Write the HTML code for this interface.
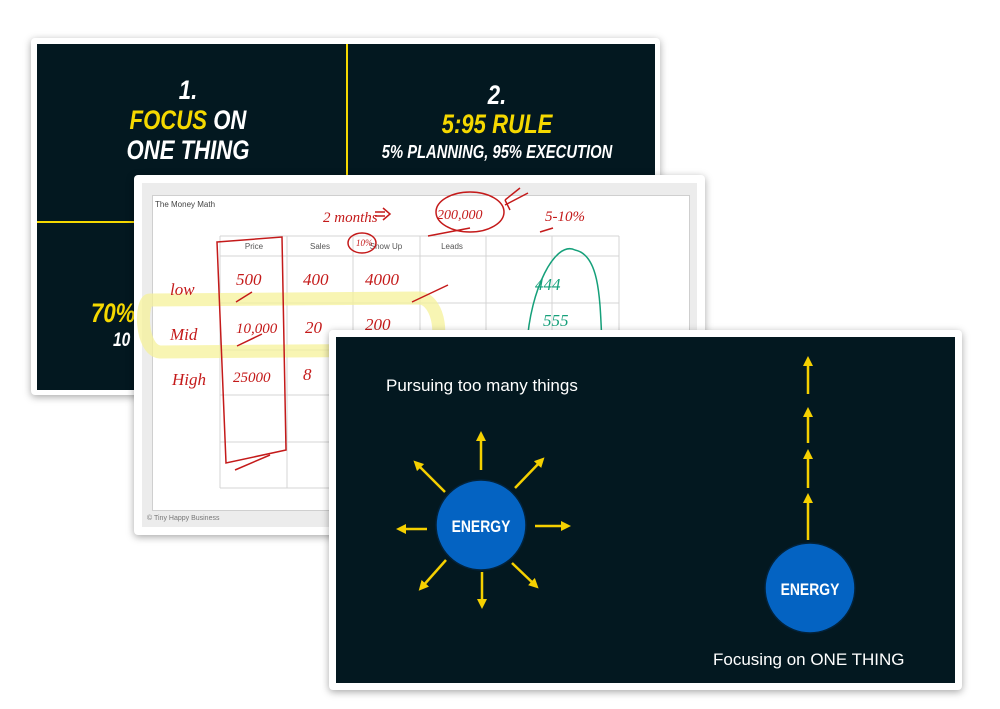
<!DOCTYPE html>
<html><head><meta charset="utf-8"><style>
html,body{margin:0;padding:0;background:#fff;}
body{width:1000px;height:709px;position:relative;overflow:hidden;font-family:"Liberation Sans",sans-serif;}
.card{position:absolute;background:#fff;border-radius:4px;box-shadow:0 2px 8px rgba(0,0,0,0.35);}
.h{position:absolute;font-family:"Liberation Sans",sans-serif;font-weight:bold;font-style:italic;white-space:nowrap;transform:scaleX(0.82);transform-origin:center;text-align:center;}
</style></head><body>
<!-- Slide 1 -->
<div class="card" style="left:31px;top:38px;width:629px;height:357px;">
  <div style="position:absolute;left:6px;top:6px;width:618px;height:346px;background:#031820;">
    <div style="position:absolute;left:309px;top:0;width:2px;height:180px;background:#f5d800;"></div>
    <div style="position:absolute;left:0;top:177px;width:120px;height:2px;background:#f5d800;"></div>
    <div class="h" style="left:51px;top:31px;width:200px;font-size:27px;color:#fff;">1.</div>
    <div class="h" style="left:51px;top:61px;width:200px;font-size:27px;"><span style="color:#f5d800">FOCUS</span> <span style="color:#fff">ON</span></div>
    <div class="h" style="left:31px;top:91px;width:240px;font-size:27px;color:#fff;">ONE THING</div>
    <div class="h" style="left:360px;top:36px;width:200px;font-size:27px;color:#fff;">2.</div>
    <div class="h" style="left:360px;top:65px;width:200px;font-size:27px;color:#f5d800;">5:95 RULE</div>
    <div class="h" style="left:300px;top:98px;width:320px;font-size:18px;color:#fff;">5% PLANNING, 95% EXECUTION</div>
    <div class="h" style="top:254px;width:80px;font-size:27px;color:#f5d800;transform-origin:left;text-align:left;left:54px;">70%</div>
    <div class="h" style="left:76px;top:286px;width:60px;font-size:19px;color:#fff;transform-origin:left;text-align:left;">10</div>
  </div>
</div>
<!-- Slide 2 -->
<div class="card" style="left:134px;top:175px;width:571px;height:360px;">
  <div style="position:absolute;left:8px;top:8px;width:555px;height:344px;background:#ececec;">
    <div style="position:absolute;left:10px;top:12px;width:536px;height:314px;background:#fff;border:1px solid #cfcfcf;"></div>
    <div style="position:absolute;left:13px;top:17px;font-size:8px;color:#444;">The Money Math</div>
    <div style="position:absolute;left:5px;top:332px;font-size:7px;color:#777;">© Tiny Happy Business</div>
  </div>
</div>
<svg style="position:absolute;left:0;top:0" width="1000" height="709">
  <g stroke="#d4d4d4" stroke-width="1" fill="none">
    <path d="M220 236V488M287 236V488M353 236V488M420 236V488M486 236V488M552 236V488M619 236V488"/>
    <path d="M220 236H619M220 256H619M220 303H619M220 350H619M220 395H619M220 442H619M220 488H619"/>
  </g>
  <g font-size="8" fill="#555" font-family="Liberation Sans" text-anchor="middle">
    <text x="254" y="249">Price</text><text x="320" y="249">Sales</text><text x="386" y="249">Show Up</text><text x="452" y="249">Leads</text>
  </g>
  <path d="M150 300 C140 300 140 350 160 352 L430 350 C445 345 440 300 420 298 Z" stroke="#f5f29a" stroke-width="13" fill="none" opacity="0.75"/>
  <g fill="none" stroke="#c41a1a" stroke-width="1.5">
    <path d="M217 242 L282 237 L286 450 L226 463 Z"/>
    <path d="M235 470 L270 455"/>
    <ellipse cx="362" cy="243" rx="14" ry="10"/>
    <ellipse cx="470" cy="212" rx="34" ry="20"/>
    <path d="M428 236 L470 228 M505 200 L520 188 M505 205 L528 193 M505 200 L510 210"/>
    <path d="M236 302 L252 292 M237 346 L262 334 M412 302 L448 285 M540 232 L553 228"/>
    <path d="M375 212 L385 212 M375 216 L385 216 M383 208 L390 214 L383 220"/>
  </g>
  <g fill="#c41a1a" font-family="Liberation Serif" font-style="italic" font-size="17">
    <text x="170" y="295">low</text><text x="170" y="340">Mid</text><text x="172" y="385" >High</text>
    <text x="236" y="285">500</text><text x="236" y="333" font-size="15">10,000</text><text x="233" y="382" font-size="15">25000</text>
    <text x="303" y="285">400</text><text x="305" y="333">20</text><text x="303" y="380">8</text>
    <text x="365" y="285">4000</text><text x="365" y="330">200</text>
    <text x="323" y="222" font-size="15">2 months</text><text x="437" y="219" font-size="14">200,000</text>
    <text x="545" y="221" font-size="15">5-10%</text><text x="356" y="246" font-size="9">10%</text>
  </g>
  <path d="M527 345 C530 290 555 240 575 250 C600 255 600 300 602 345" stroke="#15a07a" stroke-width="1.5" fill="none"/>
  <g fill="#15a07a" font-family="Liberation Serif" font-style="italic" font-size="17">
    <text x="535" y="290">444</text><text x="543" y="326">555</text>
  </g>
</svg>
<!-- Slide 3 -->
<div class="card" style="left:329px;top:330px;width:633px;height:360px;">
  <div style="position:absolute;left:7px;top:7px;width:619px;height:346px;background:#031820;"></div>
</div>
<svg style="position:absolute;left:0;top:0" width="1000" height="709">
  <defs><marker id="a" markerWidth="4" markerHeight="4" refX="2" refY="2" orient="auto" markerUnits="strokeWidth"><path d="M0 0L4 2L0 4Z" fill="#f5d000"/></marker></defs>
  <g stroke="#f5d000" stroke-width="2.5" fill="none" marker-end="url(#a)">
    <path d="M481 470L481 436"/><path d="M515 488L541 461"/><path d="M535 526L566 526"/><path d="M512 563L535 585"/>
    <path d="M482 572L482 604"/><path d="M446 560L422 587"/><path d="M427 529L401 529"/><path d="M445 492L417 464"/>
    <path d="M808 540L808 498"/><path d="M808 488L808 454"/><path d="M808 443L808 412"/><path d="M808 394L808 361"/>
  </g>
  <circle cx="481" cy="525" r="45" fill="#0463c2" stroke="#02223a" stroke-width="1.5"/>
  <circle cx="810" cy="588" r="45" fill="#0463c2" stroke="#02223a" stroke-width="1.5"/>
  <g fill="#fff" font-family="Liberation Sans" font-weight="bold" font-size="17" text-anchor="middle">
    <text x="481" y="532" transform="translate(481 0) scale(0.82 1) translate(-481 0)">ENERGY</text>
    <text x="810" y="595" transform="translate(810 0) scale(0.82 1) translate(-810 0)">ENERGY</text>
  </g>
  <text x="386" y="391" fill="#fff" font-family="Liberation Sans" font-size="17">Pursuing too many things</text>
  <text x="713" y="665" fill="#fff" font-family="Liberation Sans" font-size="17">Focusing on ONE THING</text>
</svg>
</body></html>
